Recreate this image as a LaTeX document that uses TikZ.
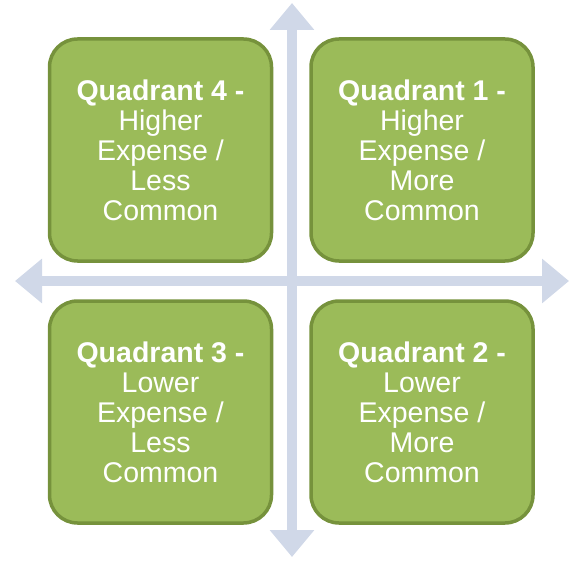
\documentclass[tikz,border=0pt]{standalone}
\usepackage{fontspec}
\setmainfont{Liberation Sans}
\usepackage{xcolor}
\usetikzlibrary{arrows.meta}
\definecolor{axisgray}{RGB}{208,216,232}
\definecolor{quadfill}{RGB}{155,187,89}
\definecolor{quadline}{RGB}{118,146,60}

\begin{document}
\begin{tikzpicture}[x=1pt,y=-1pt,
  axis/.style={draw=axisgray, line width=10pt, {Triangle[width=43pt,length=27pt]}-{Triangle[width=43pt,length=27pt]}},
  quad/.style={draw=quadline, fill=quadfill, line width=3.5pt, rounded corners=28pt,
    minimum width=222pt, minimum height=222pt, text=white, align=center,
    font=\fontsize{28.5}{30}\selectfont}]
\useasboundingbox (0,0) rectangle (577,561);

\coordinate (top) at (292, 3);
\coordinate (bottom) at (292, 557);
\coordinate (left) at (15, 281);
\coordinate (right) at (569, 281);
\draw[axis] (bottom) -- (top);
\draw[axis] (left) -- (right);

\node[quad] (q4) at (160.5, 150) {\textbf{Quadrant 4 -}\\Higher\\Expense /\\Less\\Common};
\node[quad] (q1) at (422, 150) {\textbf{Quadrant 1 -}\\Higher\\Expense /\\More\\Common};
\node[quad] (q3) at (160.5, 412) {\textbf{Quadrant 3 -}\\Lower\\Expense /\\Less\\Common};
\node[quad] (q2) at (422, 412) {\textbf{Quadrant 2 -}\\Lower\\Expense /\\More\\Common};

\end{tikzpicture}
\end{document}
